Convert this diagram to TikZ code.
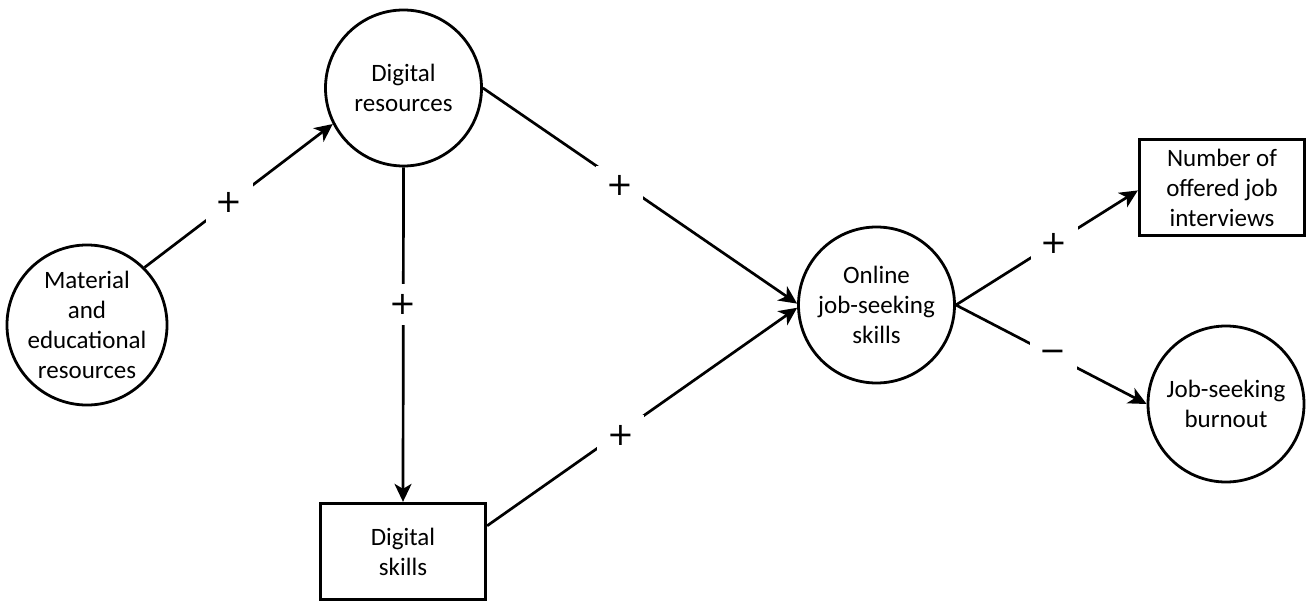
\documentclass[tikz,border=0pt]{standalone}
\usepackage{fontspec}
\setmainfont{Carlito}
\newfontfamily\signfont{DejaVu Sans}
\usetikzlibrary{arrows.meta}
\begin{document}
\begin{tikzpicture}[x=1pt,y=-1pt,
  every node/.style={font=\fontsize{25}{30}\selectfont, align=center},
  circ/.style={draw, circle, line width=2.8pt, minimum size=156pt, inner sep=0pt},
  box/.style={draw, rectangle, line width=2.8pt, minimum width=165.5pt, minimum height=96.5pt, inner sep=0pt},
  conn/.style={line width=2.7pt, -{Stealth[length=18pt,width=17pt,inset=5pt]}},
  sgn/.style={fill=white, inner sep=10pt, font=\signfont\fontsize{32}{32}\selectfont}
]
\useasboundingbox (0,0) rectangle (1309,604);
\node[circ] (mat) at (87,325) {Material\\and\\educational\\resources};
\node[circ] (dr) at (403.5,88) {Digital\\resources};
\node[box] (ds) at (403,551.5) {Digital\\skills};
\node[circ] (onl) at (876.5,305) {Online\\job-seeking\\skills};
\node[box] (nr) at (1222,187.5) {Number of\\offered job\\interviews};
\node[circ] (bo) at (1226,404) {Job-seeking\\burnout};

\draw[conn] (mat.45) -- node[sgn, pos=0.45]{+} (dr.207);
\draw[conn] (dr.south) -- node[sgn, pos=0.41]{+} (ds.north);
\draw[conn] (dr.east) -- node[sgn, pos=0.435, yshift=-4pt]{+} (onl.179);
\draw[conn] (ds.17) -- node[sgn, pos=0.43, yshift=-3pt]{+} (onl.182);
\draw[conn] (onl.east) -- node[sgn, pos=0.54]{+} (nr.182);
\draw[conn] (onl.east) -- node[sgn, pos=0.51]{−} (bo.west);
\end{tikzpicture}
\end{document}
